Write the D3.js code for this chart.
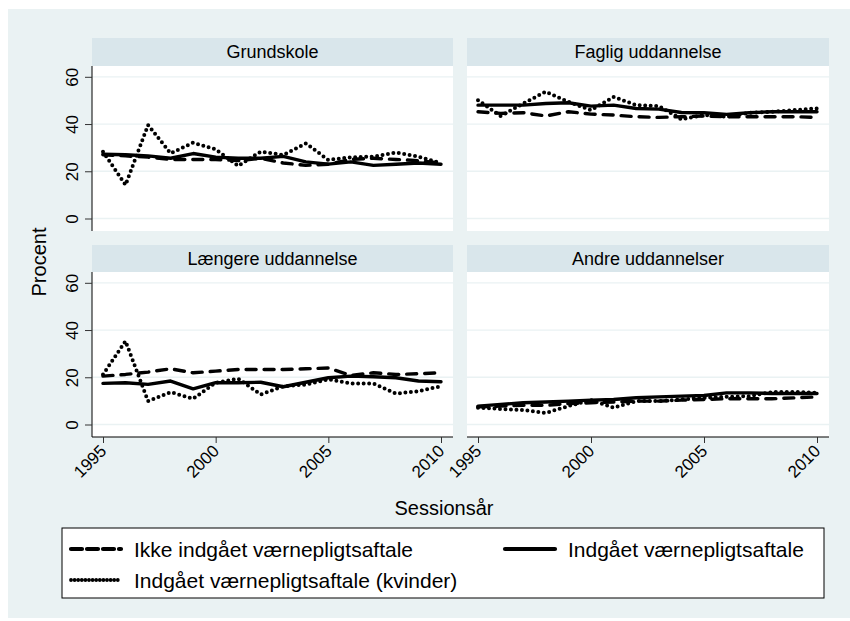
<!DOCTYPE html>
<html>
<head>
<meta charset="utf-8">
<script src="https://cdn.jsdelivr.net/npm/d3@7/dist/d3.min.js"></script>
<style>
  html, body { margin: 0; padding: 0; background: #ffffff; }
  svg { display: block; font-family: "Liberation Sans", Arial, Helvetica, sans-serif; }
</style>
</head>
<body>
<svg id="chart" width="850" height="621"></svg>
<script>
// ---------------- data ----------------
const years = [1995, 1996, 1997, 1998, 1999, 2000, 2001, 2002, 2003, 2004, 2005, 2006, 2007, 2008, 2009, 2010];
const panels = ["Grundskole", "Faglig uddannelse", "Længere uddannelse", "Andre uddannelser"];
const seriesNames = ["Ikke indgået værnepligtsaftale", "Indgået værnepligtsaftale", "Indgået værnepligtsaftale (kvinder)"];

// Ikke indgået værnepligtsaftale (dashed), one row per panel
const ikkeIndgaaet = [
  [27.0, 26.5, 26.0, 25.0, 25.0, 25.0, 24.5, 25.5, 23.5, 22.5, 23.0, 25.0, 25.5, 25.0, 24.5, 23.5],
  [45.2, 44.5, 44.8, 43.4, 45.2, 44.2, 43.8, 43.1, 42.8, 43.1, 43.4, 43.1, 43.1, 43.1, 43.1, 42.8],
  [20.5, 21.2, 22.2, 23.6, 21.9, 22.6, 23.3, 23.3, 23.3, 23.6, 23.9, 20.8, 21.9, 21.2, 21.5, 21.9],
  [7.5, 7.8, 8.1, 8.1, 8.9, 9.2, 9.5, 9.9, 9.9, 10.3, 10.6, 10.9, 10.9, 10.9, 11.3, 11.7]
];
// Indgået værnepligtsaftale (solid)
const indgaaet = [
  [27.2, 27.0, 26.5, 25.5, 27.5, 26.0, 25.5, 25.5, 26.3, 24.0, 23.0, 24.0, 22.5, 23.0, 23.5, 23.0],
  [48.0, 48.0, 48.0, 48.7, 49.0, 47.6, 48.0, 46.6, 46.3, 44.9, 44.8, 44.1, 44.8, 45.2, 45.2, 45.2],
  [17.4, 17.7, 17.0, 18.4, 15.1, 17.7, 17.7, 17.9, 16.0, 17.9, 19.8, 20.5, 20.2, 19.8, 18.4, 18.1],
  [7.8, 8.5, 9.2, 9.5, 9.9, 10.3, 10.6, 11.3, 11.7, 12.0, 12.3, 13.4, 13.4, 13.1, 13.1, 13.1]
];
// Indgået værnepligtsaftale (kvinder) (dotted)
const kvinder = [
  [28.3, 14.2, 39.6, 27.6, 32.1, 29.3, 22.3, 28.3, 26.9, 31.8, 24.8, 25.9, 26.2, 27.9, 26.2, 23.4],
  [50.1, 43.4, 48.7, 53.7, 49.4, 45.9, 51.5, 48.0, 47.6, 42.0, 43.8, 43.1, 44.8, 45.2, 45.9, 46.6],
  [21.2, 35.3, 9.9, 13.7, 10.9, 17.7, 19.4, 12.7, 16.2, 16.9, 19.1, 17.4, 17.4, 13.1, 14.1, 16.2],
  [7.1, 6.6, 6.1, 4.9, 7.8, 10.3, 7.1, 9.9, 9.9, 10.6, 11.3, 11.7, 12.0, 13.7, 13.8, 13.4]
];

const yTicks = [0, 20, 40, 60];
const xTicks = [1995, 2000, 2005, 2010];

// ---------------- layout ----------------
const W = 850, H = 621;
const bgColor = "#EAF2F3";
const stripColor = "#D9E6EB";
const cols = [{x0: 92, x1: 453}, {x0: 467, x1: 829}];
const rows = [{h0: 38, y0: 66, y1: 231}, {h0: 245, y0: 272, y1: 437}];
const seriesData = [ikkeIndgaaet, indgaaet, kvinder];
const styles = [
  {dash: "10,8", width: 3.4},
  {dash: null, width: 3.4},
  {dash: "0,5.5", width: 4.0}
];

const svg = d3.select("#chart");
svg.append("rect").attr("x", 0).attr("y", 0).attr("width", W).attr("height", H).attr("fill", "#ffffff");
svg.append("rect").attr("x", 8).attr("y", 9).attr("width", W - 8).attr("height", 609).attr("fill", bgColor);

panels.forEach((name, i) => {
  const c = cols[i % 2], r = rows[Math.floor(i / 2)];
  const x = d3.scaleLinear().domain([1995, 2010]).range([c.x0 + 11, c.x1 - 12]);
  const y = d3.scaleLinear().domain([0, 60]).range([r.y1 - 12.5, r.y0 + 10.8]);
  const g = svg.append("g");

  // strip
  g.append("rect").attr("x", c.x0).attr("y", r.h0).attr("width", c.x1 - c.x0).attr("height", r.y0 - r.h0).attr("fill", stripColor);
  g.append("text").attr("x", (c.x0 + c.x1) / 2).attr("y", (r.h0 + r.y0) / 2 + 6.3)
    .attr("text-anchor", "middle").attr("font-size", 18).attr("fill", "#000").text(name);

  // plot area
  g.append("rect").attr("x", c.x0).attr("y", r.y0).attr("width", c.x1 - c.x0).attr("height", r.y1 - r.y0).attr("fill", "#ffffff");

  // gridlines
  g.selectAll(".grid").data(yTicks).enter().append("line")
    .attr("x1", c.x0).attr("x2", c.x1)
    .attr("y1", d => y(d)).attr("y2", d => y(d))
    .attr("stroke", bgColor).attr("stroke-width", 1.3);

  // series
  const line = d3.line().x((d, k) => x(years[k])).y(d => y(d));
  seriesData.forEach((arr, s) => {
    const p = g.append("path").datum(arr[i]).attr("d", line)
      .attr("fill", "none").attr("stroke", "#000")
      .attr("stroke-width", styles[s].width)
      .attr("stroke-linejoin", "round").attr("stroke-linecap", "round");
    if (styles[s].dash) p.attr("stroke-dasharray", styles[s].dash);
  });

  // y axis (left column)
  if (i % 2 === 0) {
    const ya = g.append("g").attr("transform", `translate(${c.x0},0)`)
      .call(d3.axisLeft(y).tickValues(yTicks).tickSize(7).tickFormat(d3.format("d")));
    ya.select(".domain").attr("d", `M0,${r.y0}V${r.y1}`).attr("stroke", "#000");
    ya.selectAll(".tick line").attr("stroke", "#333");
    ya.selectAll(".tick text")
      .attr("x", null).attr("dy", null)
      .attr("font-size", 17).attr("fill", "#000")
      .attr("text-anchor", "middle")
      .attr("transform", "translate(-14,0) rotate(-90)");
  }
  // x axis (bottom row)
  if (i >= 2) {
    const xa = g.append("g").attr("transform", `translate(0,${r.y1})`)
      .call(d3.axisBottom(x).tickValues(xTicks).tickSize(6).tickFormat(d3.format("d")));
    xa.select(".domain").attr("d", `M${c.x0},0H${c.x1}`).attr("stroke", "#000");
    xa.selectAll(".tick line").attr("stroke", "#333");
    xa.selectAll(".tick text")
      .attr("y", null).attr("dy", null)
      .attr("font-size", 17).attr("fill", "#000")
      .attr("text-anchor", "end")
      .attr("transform", "translate(4,15) rotate(-45)");
  }
});

// axis titles
svg.append("text").attr("x", 444).attr("y", 515).attr("text-anchor", "middle")
  .attr("font-size", 20).attr("fill", "#000").text("Sessionsår");
svg.append("text").attr("transform", "translate(46,262) rotate(-90)").attr("text-anchor", "middle")
  .attr("font-size", 20).attr("fill", "#000").text("Procent");

// legend
const lg = svg.append("g");
lg.append("rect").attr("x", 62).attr("y", 528).attr("width", 762).attr("height", 70)
  .attr("fill", "#ffffff").attr("stroke", "#000").attr("stroke-width", 1);
const legendPos = [{x: 69, y: 549}, {x: 503, y: 549}, {x: 69, y: 580}];
const legendDash = ["11,5", null, "0,3.6"];
const legendWidth = [4.2, 4.2, 3.8];
seriesNames.forEach((nm, s) => {
  const p = legendPos[s];
  const l = lg.append("line").attr("x1", p.x + 2).attr("x2", p.x + 52).attr("y1", p.y).attr("y2", p.y)
    .attr("stroke", "#000").attr("stroke-width", legendWidth[s]).attr("stroke-linecap", "round");
  if (legendDash[s]) l.attr("stroke-dasharray", legendDash[s]);
  lg.append("text").attr("x", p.x + 65).attr("y", p.y + 7.5).attr("font-size", 21).attr("fill", "#000").text(nm);
});
</script>
</body>
</html>
